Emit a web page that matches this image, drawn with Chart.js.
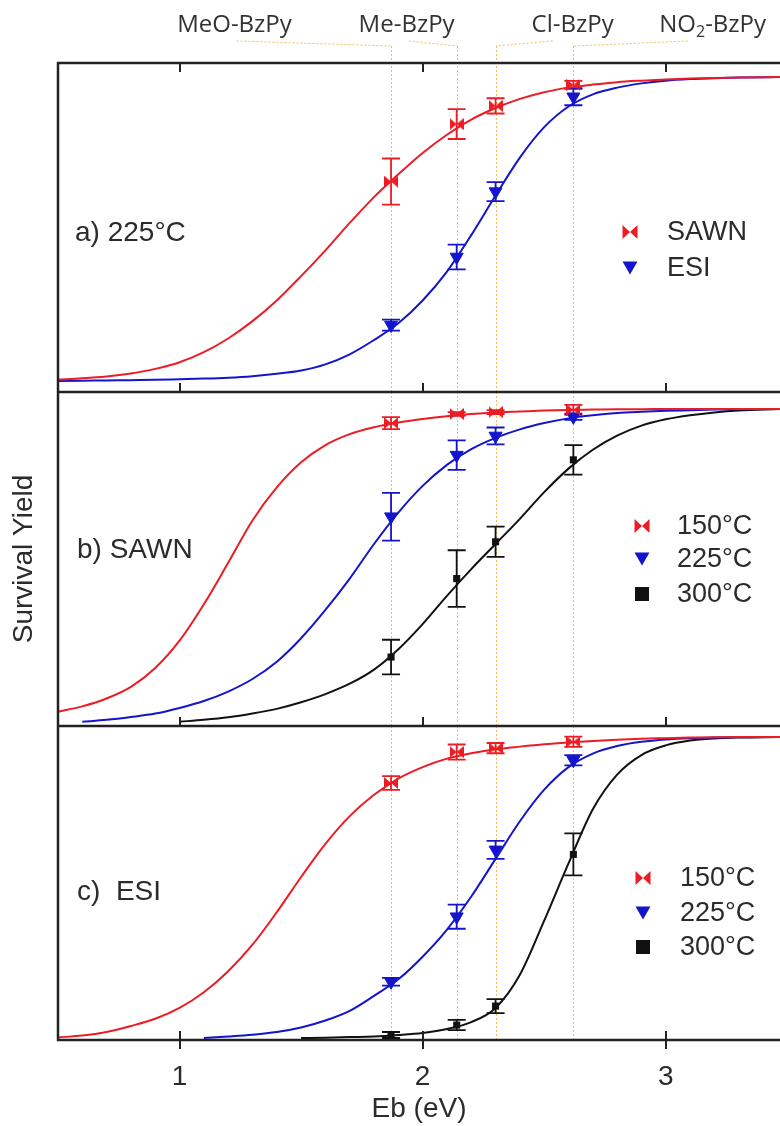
<!DOCTYPE html>
<html>
<head>
<meta charset="utf-8">
<script src="https://cdn.jsdelivr.net/npm/chart.js@4"></script>
<style>
  html, body { margin: 0; padding: 0; background: #fff; }
  #wrap { position: relative; width: 780px; height: 1126px; overflow: hidden; }
  #wrap canvas { position: absolute; left: 0; }
</style>
</head>
<body>
<div id="wrap">
  <canvas id="panelA" width="780" height="392" style="top:0px"></canvas>
  <canvas id="panelB" width="780" height="334" style="top:392px"></canvas>
  <canvas id="panelC" width="780" height="400" style="top:726px"></canvas>
</div>
<script>
// ---- data ----
const ebPoints = [1.87, 2.14, 2.30, 2.62];
const compounds = ['MeO-BzPy', 'Me-BzPy', 'Cl-BzPy', 'NO2-BzPy'];
const compoundLabelEb = [1.226, 1.934, 2.617, 3.193];
const xTicks = [1, 2, 3];

// x grid used for the fitted curves
const fitEb = [0.5, 0.6, 0.7, 0.8, 0.9, 1.0, 1.1, 1.2, 1.3, 1.4, 1.5, 1.6, 1.7, 1.8, 1.9,
               2.0, 2.1, 2.2, 2.3, 2.4, 2.5, 2.6, 2.7, 2.8, 2.9, 3.0, 3.1, 3.2, 3.3, 3.47];

// a) 225 C
const aSawn = [0.656, 0.845, 0.905, 0.974];
const aSawnErr = [0.076, 0.049, 0.025, 0.013];
const aEsi = [0.184, 0.408, 0.623, 0.935];
const aEsiErr = [0.018, 0.041, 0.031, 0.028];
const aSawnFit = [0.005, 0.009, 0.015, 0.025, 0.04, 0.062, 0.095, 0.14, 0.197, 0.265, 0.345, 0.43, 0.52, 0.605, 0.68,
                  0.75, 0.81, 0.86, 0.898, 0.928, 0.95, 0.965, 0.975, 0.983, 0.988, 0.992, 0.995, 0.997, 0.998, 1.0];
const aEsiFit = [0.0, 0.001, 0.002, 0.003, 0.004, 0.006, 0.008, 0.011, 0.016, 0.024, 0.035, 0.055, 0.088, 0.135, 0.19,
                 0.265, 0.36, 0.48, 0.61, 0.735, 0.835, 0.903, 0.943, 0.965, 0.979, 0.988, 0.993, 0.996, 0.998, 1.0];

// b) SAWN
const b150 = [0.955, 0.984, 0.99, 0.997];
const b150Err = [0.019, 0.006, 0.006, 0.016];
const b225 = [0.657, 0.853, 0.914, 0.975];
const b225Err = [0.076, 0.047, 0.027, 0.01];
const b300 = [0.21, 0.46, 0.577, 0.838];
const b300Err = [0.055, 0.09, 0.048, 0.047];
const b150Fit = [0.036, 0.053, 0.078, 0.115, 0.175, 0.262, 0.378, 0.51, 0.645, 0.75, 0.83, 0.885, 0.92, 0.942, 0.957,
                 0.968, 0.977, 0.984, 0.989, 0.992, 0.995, 0.997, 0.998, 0.999, 0.999, 1.0, 1.0, 1.0, 1.0, 1.0];
const b225Fit = [null, 0.004, 0.01, 0.019, 0.03, 0.048, 0.07, 0.1, 0.14, 0.195, 0.27, 0.36, 0.46, 0.57, 0.67,
                 0.755, 0.822, 0.872, 0.908, 0.935, 0.955, 0.97, 0.98, 0.987, 0.991, 0.994, 0.996, 0.998, 0.999, 1.0];
const b300Fit = [null, null, null, null, null, 0.004, 0.01, 0.018, 0.03, 0.045, 0.066, 0.092, 0.125, 0.17, 0.235,
                 0.315, 0.405, 0.49, 0.57, 0.65, 0.735, 0.81, 0.87, 0.915, 0.947, 0.967, 0.98, 0.989, 0.995, 1.0];

// c) ESI
const c150 = [0.847, 0.95, 0.963, 0.984];
const c150Err = [0.023, 0.025, 0.017, 0.017];
const c225 = [0.187, 0.403, 0.625, 0.923];
const c225Err = [0.013, 0.04, 0.03, 0.017];
const c300 = [0.01, 0.043, 0.106, 0.61];
const c300Err = [0.01, 0.017, 0.023, 0.07];
const c150Fit = [0.002, 0.008, 0.02, 0.04, 0.064, 0.1, 0.152, 0.222, 0.31, 0.418, 0.535, 0.645, 0.737, 0.808, 0.862,
                 0.9, 0.928, 0.946, 0.959, 0.968, 0.976, 0.982, 0.987, 0.991, 0.994, 0.996, 0.998, 0.999, 1.0, 1.0];
const c225Fit = [null, null, null, null, null, null, 0.0, 0.005, 0.011, 0.02, 0.035, 0.058, 0.09, 0.14, 0.195,
                 0.27, 0.36, 0.47, 0.595, 0.72, 0.825, 0.9, 0.945, 0.97, 0.984, 0.992, 0.996, 0.998, 0.999, 1.0];
const c300Fit = [null, null, null, null, null, null, null, null, null, null, 0.0, 0.001, 0.003, 0.005, 0.01,
                 0.017, 0.03, 0.053, 0.1, 0.21, 0.39, 0.58, 0.76, 0.875, 0.94, 0.972, 0.988, 0.995, 0.998, 1.0];

// ---- styling ----
const RED = '#ec1c24';
const BLUE = '#1414cc';
const BLACK = '#111111';
const TEXT = '#2b2b2b';
const FONT = '"Liberation Sans", Arial, sans-serif';

Chart.defaults.font.family = FONT;
Chart.defaults.color = TEXT;

function bowtie(w, h, color) {
  const c = document.createElement('canvas');
  c.width = w; c.height = h;
  const g = c.getContext('2d');
  g.fillStyle = color;
  g.beginPath();
  g.moveTo(0, 0); g.lineTo(w / 2, h / 2); g.lineTo(0, h); g.closePath();
  g.moveTo(w, 0); g.lineTo(w / 2, h / 2); g.lineTo(w, h); g.closePath();
  g.fill();
  return c;
}

function markerStyle(marker, color) {
  if (marker === 'bowtie') return { pointStyle: bowtie(14, 12, color), pointRadius: 7 };
  if (marker === 'tri') return { pointStyle: 'triangle', pointRotation: 180, pointRadius: 7.5,
                                 pointBackgroundColor: color, pointBorderColor: color, pointBorderWidth: 1 };
  return { pointStyle: 'rect', pointRadius: 5, pointBackgroundColor: color, pointBorderColor: color, pointBorderWidth: 0 };
}

function fitSet(label, ys, color) {
  return {
    label,
    data: fitEb.map((x, i) => ({ x, y: ys[i] })).filter(p => p.y !== null),
    borderColor: color,
    borderWidth: 2,
    pointRadius: 0,
    cubicInterpolationMode: 'monotone',
    fill: false,
    order: 1
  };
}

function pointSet(label, ys, errs, color, marker) {
  return Object.assign({
    label,
    data: ebPoints.map((x, i) => ({ x, y: ys[i] })),
    showLine: false,
    errors: errs,
    color,
    marker,
    order: 0
  }, markerStyle(marker, color));
}

function drawMarker(ctx, marker, color, x, y) {
  ctx.fillStyle = color;
  ctx.beginPath();
  if (marker === 'bowtie') {
    const w = 15, h = 14;
    ctx.moveTo(x - w / 2, y - h / 2); ctx.lineTo(x, y); ctx.lineTo(x - w / 2, y + h / 2); ctx.closePath();
    ctx.moveTo(x + w / 2, y - h / 2); ctx.lineTo(x, y); ctx.lineTo(x + w / 2, y + h / 2); ctx.closePath();
  } else if (marker === 'tri') {
    const w = 15, h = 13;
    ctx.moveTo(x - w / 2, y - h / 2); ctx.lineTo(x + w / 2, y - h / 2); ctx.lineTo(x, y + h / 2); ctx.closePath();
  } else {
    const s = 14;
    ctx.rect(x - s / 2, y - s / 2, s, s);
  }
  ctx.fill();
}

// panel decorations: guide lines, error bars, frame, ticks, legend, labels
const panelPlugin = {
  id: 'panel',
  beforeDatasetsDraw(chart, args, opts) {
    const { ctx, chartArea: a, scales: { x, y } } = chart;
    ctx.save();
    ctx.strokeStyle = 'rgba(238,178,60,0.85)';
    ctx.lineWidth = 1;
    ctx.setLineDash([2, 2]);
    ebPoints.forEach(v => {
      const px = Math.round(x.getPixelForValue(v)) + 0.5;
      ctx.beginPath();
      ctx.moveTo(px, opts.compounds ? 46 : a.top);
      ctx.lineTo(px, a.bottom);
      ctx.stroke();
    });
    ctx.restore();

    ctx.save();
    ctx.lineWidth = 1.8;
    chart.data.datasets.forEach(ds => {
      if (!ds.errors) return;
      ctx.strokeStyle = ds.color;
      ds.data.forEach((p, i) => {
        const e = ds.errors[i];
        const px = x.getPixelForValue(p.x);
        const y1 = y.getPixelForValue(p.y + e);
        const y2 = y.getPixelForValue(p.y - e);
        ctx.beginPath();
        ctx.moveTo(px, y1); ctx.lineTo(px, y2);
        ctx.moveTo(px - 9, y1); ctx.lineTo(px + 9, y1);
        ctx.moveTo(px - 9, y2); ctx.lineTo(px + 9, y2);
        ctx.stroke();
      });
    });
    ctx.restore();
  },
  afterDraw(chart, args, opts) {
    const { ctx, chartArea: a, scales: { x } } = chart;
    const right = chart.width + 2;
    ctx.save();
    // frame
    ctx.strokeStyle = '#222';
    ctx.lineWidth = 2.5;
    ctx.beginPath();
    ctx.moveTo(right, a.top); ctx.lineTo(a.left, a.top); ctx.lineTo(a.left, a.bottom); ctx.lineTo(right, a.bottom);
    ctx.stroke();
    // ticks
    ctx.lineWidth = 2;
    xTicks.forEach(v => {
      const px = Math.round(x.getPixelForValue(v));
      ctx.beginPath();
      ctx.moveTo(px, a.bottom + (opts.outTicks ? 9 : 0)); ctx.lineTo(px, a.bottom - 9);
      if (opts.topTicks) { ctx.moveTo(px, a.top); ctx.lineTo(px, a.top + 9); }
      ctx.stroke();
    });
    // panel label
    ctx.fillStyle = TEXT;
    ctx.font = '28px ' + FONT;
    ctx.textAlign = 'left';
    ctx.textBaseline = 'middle';
    ctx.fillText(opts.label, opts.labelX, opts.labelY);
    // legend
    const entries = chart.data.datasets.filter(ds => ds.marker);
    ctx.font = '27px ' + FONT;
    entries.forEach((ds, i) => {
      const ly = opts.legendY[i];
      drawMarker(ctx, ds.marker, ds.color, opts.legendX, ly);
      ctx.fillStyle = TEXT;
      ctx.fillText(ds.label, opts.legendTextX, ly + 1);
    });
    // compound names with dotted leaders
    if (opts.compounds) {
      ctx.strokeStyle = 'rgba(238,178,60,0.85)';
      ctx.lineWidth = 1;
      ctx.setLineDash([2, 2]);
      compounds.forEach((name, i) => {
        const cx = x.getPixelForValue(compoundLabelEb[i]);
        const vx = Math.round(x.getPixelForValue(ebPoints[i])) + 0.5;
        const sx = i < 2 ? cx + 2 : cx - 20 - (i - 2) * 5;
        ctx.beginPath();
        ctx.moveTo(sx, 41); ctx.lineTo(vx, 46);
        ctx.stroke();
      });
      ctx.setLineDash([]);
      ctx.fillStyle = '#333';
      ctx.textBaseline = 'alphabetic';
      compounds.forEach((name, i) => {
        const cx = x.getPixelForValue(compoundLabelEb[i]);
        if (name.startsWith('NO2')) {
          const big = '24px "Open Sans", sans-serif', small = '16px "Open Sans", sans-serif';
          ctx.font = big; const w1 = ctx.measureText('NO').width, w3 = ctx.measureText('-BzPy').width;
          ctx.font = small; const w2 = ctx.measureText('2').width;
          let sx = cx - (w1 + w2 + w3) / 2;
          ctx.textAlign = 'left';
          ctx.font = big; ctx.fillText('NO', sx, 32); sx += w1;
          ctx.font = small; ctx.fillText('2', sx, 37); sx += w2;
          ctx.font = big; ctx.fillText('-BzPy', sx, 32);
        } else {
          ctx.font = '24px "Open Sans", sans-serif';
          ctx.textAlign = 'center';
          ctx.fillText(name, cx, 32);
        }
      });
    }
    ctx.restore();
  }
};

function xScale(showLabels) {
  const s = {
    type: 'linear', min: 0.5, max: 3.47, display: showLabels,
    afterBuildTicks: sc => { sc.ticks = xTicks.map(v => ({ value: v })); }
  };
  if (showLabels) {
    Object.assign(s, {
      grid: { display: false, drawTicks: false },
      border: { display: false },
      ticks: { font: { size: 28 }, color: TEXT, padding: 20, maxRotation: 0, autoSkip: false },
      title: { display: true, text: 'Eb (eV)', font: { size: 28 }, color: TEXT, padding: { top: 0, bottom: 0 } },
      afterFit: sc => { sc.height = 86; }
    });
  }
  return s;
}

function makePanel(id, datasets, yMin, yMax, panelOpts, extra) {
  const yAxis = { type: 'linear', min: yMin, max: yMax, display: false };
  if (extra.yTitle) {
    Object.assign(yAxis, {
      display: true,
      ticks: { display: false },
      grid: { display: false, drawTicks: false },
      border: { display: false },
      title: { display: true, text: extra.yTitle, font: { size: 28 }, color: TEXT, padding: { top: 7, bottom: 0 } },
      afterFit: sc => { sc.width = 58; }
    });
  }
  return new Chart(document.getElementById(id), {
    type: 'line',
    data: { datasets },
    options: {
      responsive: false,
      animation: false,
      devicePixelRatio: 1,
      layout: { autoPadding: false, padding: { left: extra.yTitle ? 0 : 58, top: extra.top || 0, right: 0, bottom: 0 } },
      scales: { x: xScale(!!extra.xLabels), y: yAxis },
      plugins: { legend: { display: false }, tooltip: { enabled: false }, panel: panelOpts }
    },
    plugins: [panelPlugin]
  });
}

makePanel('panelA', [
  fitSet('SAWN fit', aSawnFit, RED),
  fitSet('ESI fit', aEsiFit, BLUE),
  pointSet('SAWN', aSawn, aSawnErr, RED, 'bowtie'),
  pointSet('ESI', aEsi, aEsiErr, BLUE, 'tri')
], -0.036, 1.046, {
  label: 'a) 225\u00B0C', labelX: 75, labelY: 233,
  legendX: 630, legendY: [232, 268], legendTextX: 667,
  topTicks: true, compounds: true
}, { top: 63 });

makePanel('panelB', [
  fitSet('150 fit', b150Fit, RED),
  fitSet('225 fit', b225Fit, BLUE),
  fitSet('300 fit', b300Fit, BLACK),
  pointSet('150\u00B0C', b150, b150Err, RED, 'bowtie'),
  pointSet('225\u00B0C', b225, b225Err, BLUE, 'tri'),
  pointSet('300\u00B0C', b300, b300Err, BLACK, 'rect')
], -0.0096, 1.054, {
  label: 'b) SAWN', labelX: 77, labelY: 158,
  legendX: 642, legendY: [134, 167, 202], legendTextX: 677
}, { yTitle: 'Survival Yield' });

makePanel('panelC', [
  fitSet('150 fit', c150Fit, RED),
  fitSet('225 fit', c225Fit, BLUE),
  fitSet('300 fit', c300Fit, BLACK),
  pointSet('150\u00B0C', c150, c150Err, RED, 'bowtie'),
  pointSet('225\u00B0C', c225, c225Err, BLUE, 'tri'),
  pointSet('300\u00B0C', c300, c300Err, BLACK, 'rect')
], -0.0066, 1.0365, {
  label: 'c)  ESI', labelX: 77, labelY: 166,
  legendX: 643, legendY: [152, 187, 221], legendTextX: 680,
  outTicks: true
}, { xLabels: true });
</script>
</body>
</html>
